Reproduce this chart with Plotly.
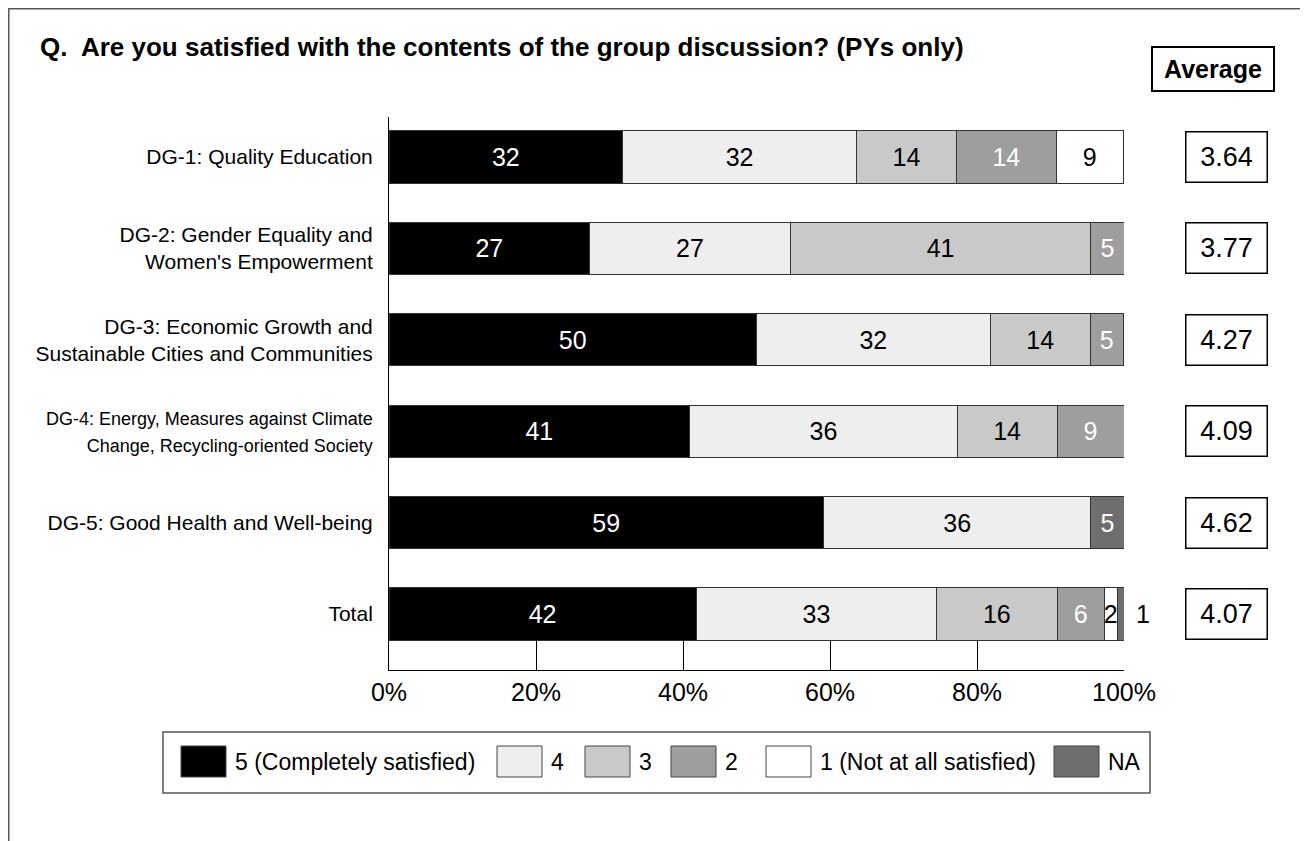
import plotly.graph_objects as go

# ---------------- data ----------------
categories = [
    "DG-1: Quality Education",
    "DG-2: Gender Equality and<br>Women's Empowerment",
    "DG-3: Economic Growth and<br>Sustainable Cities and Communities",
    "DG-4: Energy, Measures against Climate<br>Change, Recycling-oriented Society",
    "DG-5: Good Health and Well-being",
    "Total",
]
series_names = ["5 (Completely satisfied)", "4", "3", "2", "1 (Not at all satisfied)", "NA"]
s5 = [31.8, 27.3, 50.0, 40.9, 59.1, 41.8]
s4 = [31.8, 27.3, 31.8, 36.4, 36.4, 32.7]
s3 = [13.6, 40.9, 13.6, 13.6, 0, 16.4]
s2 = [13.6, 4.5, 4.5, 9.1, 0, 6.4]
s1 = [9.1, 0, 0, 0, 0, 1.8]
s_na = [0, 0, 0, 0, 4.5, 0.9]
averages = ["3.64", "3.77", "4.27", "4.09", "4.62", "4.07"]
x_tick_vals = [0, 20, 40, 60, 80, 100]
x_tick_labels = ["0%", "20%", "40%", "60%", "80%", "100%"]

# ---------------- style ----------------
colors = ["#000000", "#eeeeee", "#c9c9c9", "#9e9e9e", "#ffffff", "#6e6e6e"]
label_colors = ["white", "black", "black", "white", "black", "white"]
FONT = "Liberation Sans, Arial, Helvetica, sans-serif"
W, H = 1308, 841
OFF = 8  # page body margin
SX0, SX1, SY0, SY1 = 389, 1124, 117, 670  # plot area in screen pixels
ML, MR = SX0 - OFF, W - (SX1 - OFF)
MT, MB = SY0 - OFF, H - (SY1 - OFF)


def px(x):
    return (x - SX0) / (SX1 - SX0)


def py(y):
    return (SY1 - y) / (SY1 - SY0)


def tick_label(cat):
    if cat.startswith("DG-4"):
        return "<br>".join("<span style='font-size:18px'>%s</span>" % part for part in cat.split("<br>"))
    return cat


all_series = [s5, s4, s3, s2, s1, s_na]
fig = go.Figure()
for i, (name, vals) in enumerate(zip(series_names, all_series)):
    xs = [v if v > 0 else None for v in vals]
    texts = []
    for j, v in enumerate(vals):
        if v <= 0:
            texts.append("")
        elif i == 5 and j == len(vals) - 1:
            texts.append("")  # drawn outside as annotation
        else:
            texts.append(str(int(v + 0.5)))
    fig.add_trace(go.Bar(
        name=name, orientation="h", x=xs, y=categories,
        marker=dict(color=colors[i], line=dict(color="#333333", width=1)),
        width=0.57, text=texts, textposition="inside",
        insidetextanchor="middle", constraintext="none", textangle=0,
        textfont=dict(color=label_colors[i], size=25, family=FONT),
        showlegend=False, hoverinfo="skip",
    ))

annotations = []
# outside label for Total NA
tot_end = sum(s[-1] for s in all_series)
annotations.append(dict(
    x=tot_end, y=categories[-1], xref="x", yref="y", text=str(int(s_na[-1] + 0.5)),
    showarrow=False, xanchor="left", xshift=10,
    font=dict(size=25, color="black", family=FONT)))

# Average boxes
for cat, avg in zip(categories, averages):
    annotations.append(dict(
        x=px(1226.5), y=cat, xref="paper", yref="y", text=avg, showarrow=False,
        xanchor="center", yanchor="middle", width=80, height=49, borderpad=0,
        bordercolor="black", borderwidth=1.5, bgcolor="white",
        font=dict(size=27, color="black", family=FONT)))
annotations.append(dict(
    x=px(1213), y=py(69.5), xref="paper", yref="paper", text="<b>Average</b>",
    showarrow=False, xanchor="center", yanchor="middle", width=120, height=42,
    borderpad=0, bordercolor="black", borderwidth=2, bgcolor="white",
    font=dict(size=25, color="black", family=FONT)))

# Title
annotations.append(dict(
    x=px(38), y=py(47), xref="paper", yref="paper",
    text="<b>Q.\u00a0 Are you satisfied with the contents of the group discussion? (PYs only)</b>",
    showarrow=False, xanchor="left", yanchor="middle",
    font=dict(size=26, color="black", family=FONT)))

shapes = []
# outer frame (kept just inside the figure edge)
shapes.append(dict(type="rect", xref="paper", yref="paper",
                   x0=px(OFF + 0.8), x1=px(1303), y0=py(870), y1=py(OFF + 0.8),
                   line=dict(color="#555555", width=1.5), fillcolor="rgba(0,0,0,0)", layer="above"))
# legend box
shapes.append(dict(type="rect", xref="paper", yref="paper",
                   x0=px(163), x1=px(1150), y0=py(793), y1=py(732),
                   line=dict(color="#555555", width=1.5), fillcolor="white"))
legend_x = [181, 497, 585, 671, 766, 1054]
for name, col, lx in zip(series_names, colors, legend_x):
    shapes.append(dict(type="rect", xref="paper", yref="paper",
                       x0=px(lx), x1=px(lx + 45), y0=py(777), y1=py(746),
                       line=dict(color="#444444", width=1), fillcolor=col))
    annotations.append(dict(
        x=px(lx + 52), y=py(762), xref="paper", yref="paper", text=name,
        showarrow=False, xanchor="left", yanchor="middle",
        font=dict(size=23, color="black", family=FONT)))

fig.update_layout(
    width=W, height=H, barmode="stack",
    margin=dict(l=ML, r=MR, t=MT, b=MB, autoexpand=False),
    paper_bgcolor="white", plot_bgcolor="white",
    font=dict(family=FONT, color="black"),
    xaxis=dict(range=[0, 100], tickvals=x_tick_vals, ticktext=x_tick_labels,
               showgrid=False, zeroline=False, showline=True, linecolor="black",
               linewidth=1, ticks="inside", ticklen=30, tickwidth=1, tickcolor="black",
               tickfont=dict(size=25, family=FONT), fixedrange=True),
    yaxis=dict(type="category", range=[5.613, -0.438], showgrid=False, zeroline=False,
               showline=True, linecolor="black", linewidth=1, ticks="",
               tickvals=categories, ticktext=[tick_label(c) for c in categories],
               ticklabelstandoff=11, tickfont=dict(size=21, family=FONT), fixedrange=True),
    annotations=annotations, shapes=shapes, showlegend=False,
)

fig.write_html("out.html")
